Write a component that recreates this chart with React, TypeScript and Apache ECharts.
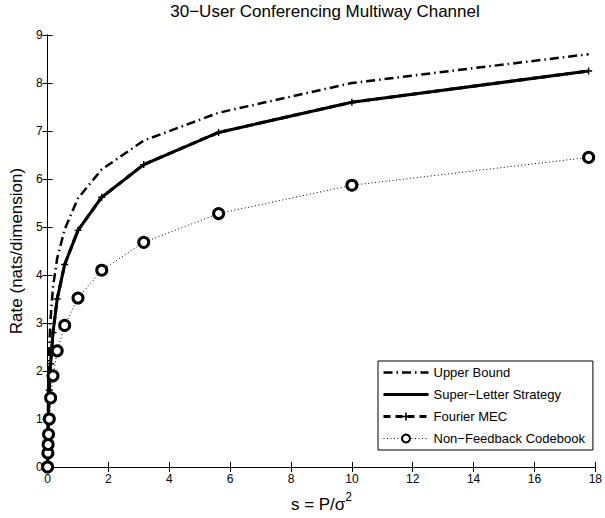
import React, { useEffect, useRef } from "react";
import * as echarts from "echarts";

const sValues = [0, 0.01, 0.0178, 0.0316, 0.0562, 0.1, 0.178, 0.316, 0.562, 1, 1.78, 3.16, 5.62, 10, 17.78];
const upperBound = [0, 1.0, 1.5, 2.0, 2.55, 3.1, 3.75, 4.35, 4.95, 5.6, 6.2, 6.8, 7.38, 8.0, 8.6];
const superLetter = [0, 0.45, 0.72, 1.1, 1.6, 2.15, 2.8, 3.5, 4.22, 4.93, 5.62, 6.3, 6.97, 7.6, 8.25];
const fourierMEC = [0, 0.45, 0.72, 1.1, 1.6, 2.15, 2.8, 3.5, 4.22, 4.93, 5.62, 6.3, 6.97, 7.6, 8.25];
const nonFeedback = [0, 0.29, 0.47, 0.68, 1.0, 1.44, 1.9, 2.42, 2.95, 3.52, 4.1, 4.68, 5.28, 5.87, 6.45];

const seriesNames = ["Upper Bound", "Super\u2212Letter Strategy", "Fourier MEC", "Non\u2212Feedback Codebook"];
const titleText = "30\u2212User Conferencing Multiway Channel";
const yName = "Rate (nats/dimension)";

const FONT = "'Liberation Sans', Arial, Helvetica, sans-serif";
const PLUS = "path://M4,0H6V4H10V6H6V10H4V6H0V4H4Z";

function pairs(ys: number[]) {
  return sValues.map((x, i) => [x, ys[i]]);
}

export default function App() {
  const ref = useRef<HTMLDivElement>(null);
  useEffect(() => {
    if (!ref.current) return;
    const chart = echarts.init(ref.current, undefined, { renderer: "svg" });
    const axisCommon = {
      axisLine: { show: true, lineStyle: { color: "#000", width: 1 } },
      axisTick: { show: true, inside: true, length: 5, lineStyle: { color: "#000" } },
      splitLine: { show: false },
    };
    chart.setOption({
      animation: false,
      backgroundColor: "#fff",
      title: {
        text: titleText,
        left: 320,
        textAlign: "center",
        top: -2,
        textStyle: { fontFamily: FONT, fontSize: 17, fontWeight: "normal", color: "#000" },
      },
      grid: { left: 43, right: 7, top: 35, bottom: 45 },
      legend: {
        orient: "vertical",
        left: 378,
        top: 361,
        padding: [5, 8, 5, 4],
        itemWidth: 45,
        itemHeight: 10,
        itemGap: 9,
        backgroundColor: "#fff",
        borderColor: "#000",
        borderWidth: 1,
        lineStyle: { width: "inherit" },
        textStyle: { fontFamily: FONT, fontSize: 13, color: "#000" },
        data: [
          { name: seriesNames[0], itemStyle: { opacity: 0 } },
          { name: seriesNames[1], itemStyle: { opacity: 0 } },
          { name: seriesNames[2] },
          { name: seriesNames[3] },
        ],
      },
      xAxis: [
        {
          type: "value",
          min: 0,
          max: 18,
          interval: 2,
          position: "bottom",
          ...axisCommon,
          axisLabel: { fontFamily: FONT, fontSize: 12, color: "#000", margin: 6 },
          name: "{a|s = P/\u03c3}{b|2}",
          nameLocation: "middle",
          nameGap: 24,
          nameTextStyle: {
            rich: {
              a: { fontFamily: FONT, fontSize: 17, color: "#000", verticalAlign: "bottom", lineHeight: 22 },
              b: { fontFamily: FONT, fontSize: 12, color: "#000", verticalAlign: "top", lineHeight: 22, padding: [0, 0, 9, 0] },
            },
          },
        },
        {
          type: "value",
          min: 0,
          max: 18,
          interval: 2,
          position: "top",
          ...axisCommon,
          axisLabel: { show: false },
        },
      ],
      yAxis: [
        {
          type: "value",
          min: 0,
          max: 9,
          interval: 1,
          position: "left",
          ...axisCommon,
          axisLabel: { fontFamily: FONT, fontSize: 12, color: "#000", margin: 5 },
          name: yName,
          nameLocation: "middle",
          nameGap: 20,
          nameTextStyle: { fontFamily: FONT, fontSize: 17, color: "#000" },
        },
        {
          type: "value",
          min: 0,
          max: 9,
          interval: 1,
          position: "right",
          ...axisCommon,
          axisLabel: { show: false },
        },
      ],
      series: [
        {
          name: seriesNames[0],
          type: "line",
          data: pairs(upperBound),
          symbol: "none",
          lineStyle: { color: "#000", width: 2.5, type: [9, 4, 1.5, 4] },
          itemStyle: { color: "#000" },
          z: 3,
        },
        {
          name: seriesNames[1],
          type: "line",
          data: pairs(superLetter),
          symbol: "none",
          lineStyle: { color: "#000", width: 3, type: "solid" },
          itemStyle: { color: "#000" },
          z: 4,
        },
        {
          name: seriesNames[2],
          type: "line",
          data: pairs(fourierMEC),
          symbol: PLUS,
          symbolSize: 7,
          showAllSymbol: true,
          lineStyle: { color: "#000", width: 3, type: [7, 5] },
          itemStyle: { color: "#000", borderWidth: 0 },
          z: 5,
        },
        {
          name: seriesNames[3],
          type: "line",
          data: pairs(nonFeedback),
          symbol: "circle",
          symbolSize: 10,
          showAllSymbol: true,
          lineStyle: { color: "#000", width: 1, type: [1, 2.5] },
          itemStyle: { color: "#fff", borderColor: "#000", borderWidth: 3 },
          z: 6,
        },
      ],
    });
    return () => chart.dispose();
  }, []);
  return <div ref={ref} style={{ position: "fixed", left: 0, top: 0, width: 605, height: 518 }} />;
}
